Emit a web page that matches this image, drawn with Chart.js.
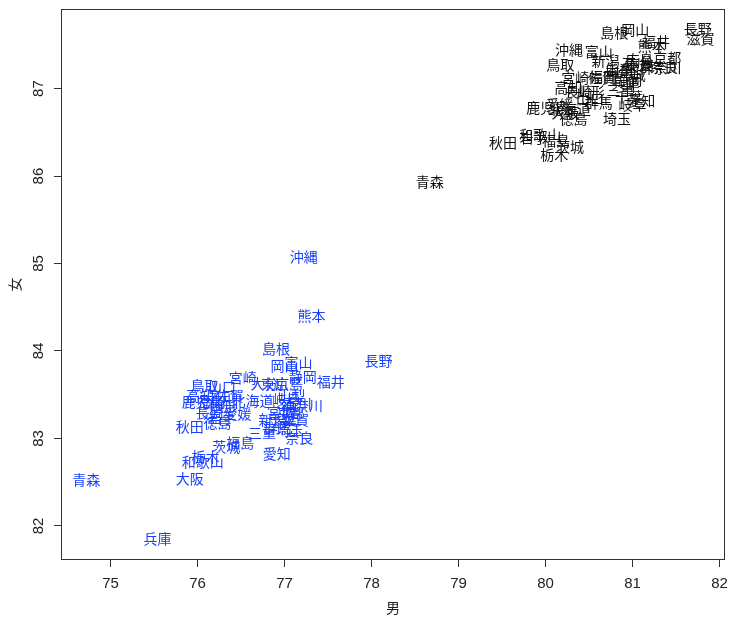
<!DOCTYPE html>
<html>
<head>
<meta charset="utf-8">
<script src="https://cdn.jsdelivr.net/npm/chart.js@4.4.1/dist/chart.umd.min.js"></script>
<style>
  html, body { margin: 0; padding: 0; background: #fff; }
  #wrap { width: 736px; height: 622px; position: relative; }
</style>
</head>
<body>
<div id="wrap"><canvas id="chart"></canvas></div>
<script>
// prefectures, in the usual order
const prefs = ['北海道', '青森', '岩手', '宮城', '秋田', '山形', '福島', '茨城', '栃木', '群馬',
  '埼玉', '千葉', '東京', '神奈川', '新潟', '富山', '石川', '福井', '山梨', '長野',
  '岐阜', '静岡', '愛知', '三重', '滋賀', '京都', '大阪', '兵庫', '奈良', '和歌山',
  '鳥取', '島根', '岡山', '広島', '山口', '徳島', '香川', '愛媛', '高知', '福岡',
  '佐賀', '長崎', '熊本', '大分', '宮崎', '鹿児島', '沖縄'];

// older year (blue)
const maleOld = [76.63, 74.72, 76.28, 76.96, 75.91, 76.30, 76.49, 76.33, 76.09, 76.92,
  77.06, 76.98, 76.89, 77.20, 76.86, 77.16, 77.15, 77.53, 77.08, 78.08,
  77.02, 77.21, 76.91, 76.74, 77.12, 77.07, 75.91, 75.54, 77.17, 76.06,
  76.08, 76.90, 77.00, 77.05, 76.28, 76.23, 76.28, 76.46, 76.03, 76.16,
  76.37, 76.14, 77.31, 76.77, 76.52, 76.06, 77.22];
const femaleOld = [83.43, 82.53, 83.24, 83.31, 83.13, 83.38, 82.95, 82.90, 82.79, 83.12,
  83.10, 83.21, 83.63, 83.37, 83.21, 83.87, 83.40, 83.65, 83.49, 83.89,
  83.44, 83.71, 82.82, 83.06, 83.22, 83.30, 82.54, 81.85, 83.01, 82.73,
  83.60, 84.03, 83.83, 83.63, 83.59, 83.18, 83.46, 83.28, 83.49, 83.42,
  83.49, 83.29, 84.40, 83.63, 83.69, 83.42, 85.08];

// newer year (black)
const maleNew = [80.28, 78.67, 79.86, 80.99, 79.51, 80.52, 80.12, 80.28, 80.10, 80.61,
  80.82, 80.96, 81.07, 81.32, 80.69, 80.61, 81.04, 81.27, 80.85, 81.75,
  81.00, 80.95, 81.10, 80.86, 81.78, 81.40, 80.23, 80.92, 81.36, 79.94,
  80.17, 80.79, 81.03, 81.08, 80.51, 80.32, 80.85, 80.16, 80.26, 80.66,
  80.65, 80.38, 81.22, 81.08, 80.34, 80.02, 80.27];
const femaleNew = [86.77, 85.93, 86.44, 87.16, 86.38, 86.96, 86.40, 86.33, 86.24, 86.84,
  86.66, 86.91, 87.26, 87.24, 87.32, 87.42, 87.28, 87.54, 87.22, 87.68,
  86.82, 87.10, 86.86, 86.99, 87.57, 87.35, 86.73, 87.07, 87.25, 86.47,
  87.27, 87.64, 87.67, 87.33, 86.88, 86.66, 87.21, 86.82, 87.01, 87.14,
  87.12, 86.97, 87.49, 87.31, 87.12, 86.78, 87.44];

const xTitle = '男';
const yTitle = '女';

const labelFont = '14px "Noto Sans CJK JP", sans-serif';
const tickFont = { family: '"Liberation Sans", Arial, sans-serif', size: 15 };

const toPoints = (xs, ys) => xs.map((x, i) => ({ x: x, y: ys[i] }));

// draw prefecture names at each point instead of markers
const textLabels = {
    id: 'textLabels',
    afterDatasetsDraw(chart) {
        const ctx = chart.ctx;
        ctx.save();
        ctx.font = labelFont;
        ctx.textAlign = 'center';
        ctx.textBaseline = 'middle';
        chart.data.datasets.forEach((ds, i) => {
            ctx.fillStyle = ds.textColor;
            chart.getDatasetMeta(i).data.forEach((pt, j) => {
                ctx.fillText(prefs[j], pt.x, pt.y);
            });
        });
        ctx.restore();
    }
};

// box round the plot and rotated y tick labels, R style
const frame = {
    id: 'frame',
    afterDraw(chart) {
        const { ctx, chartArea: a } = chart;
        const ys = chart.scales.y;
        ctx.save();
        ctx.strokeStyle = '#333';
        ctx.lineWidth = 1;
        ctx.strokeRect(Math.round(a.left) + 0.5, Math.round(a.top) + 0.5,
            Math.round(a.right - a.left) - 1, Math.round(a.bottom - a.top) - 1);
        ctx.fillStyle = '#222';
        ctx.font = tickFont.size + 'px ' + tickFont.family;
        ctx.textAlign = 'center';
        ctx.textBaseline = 'middle';
        ys.ticks.forEach(t => {
            const py = ys.getPixelForValue(t.value);
            ctx.save();
            ctx.translate(39, py);
            ctx.rotate(-Math.PI / 2);
            ctx.fillText(String(t.value), 0, 0);
            ctx.restore();
        });
        ctx.restore();
    }
};

new Chart(document.getElementById('chart'), {
    type: 'scatter',
    data: {
        datasets: [
            { data: toPoints(maleOld, femaleOld), textColor: '#1a40ff', pointRadius: 0, pointHoverRadius: 0 },
            { data: toPoints(maleNew, femaleNew), textColor: '#111', pointRadius: 0, pointHoverRadius: 0 }
        ]
    },
    options: {
        responsive: true,
        maintainAspectRatio: false,
        animation: false,
        layout: { padding: { top: 9, right: 11, left: 0, bottom: 0 } },
        plugins: {
            legend: { display: false },
            tooltip: { enabled: false }
        },
        scales: {
            x: {
                type: 'linear',
                min: 74.43,
                max: 82.06,
                border: { display: false },
                grid: { drawOnChartArea: false, drawTicks: true, tickLength: 7, color: '#333' },
                ticks: { stepSize: 1, includeBounds: false, color: '#222', font: tickFont, padding: 8 },
                title: { display: true, text: xTitle, color: '#222', font: { family: '"Noto Sans CJK JP", sans-serif', size: 14 }, padding: { top: 0, bottom: 6 } },
                afterFit: (s) => { s.height = 62; }
            },
            y: {
                type: 'linear',
                min: 81.61,
                max: 87.91,
                border: { display: false },
                grid: { drawOnChartArea: false, drawTicks: true, tickLength: 7, color: '#333' },
                ticks: { stepSize: 1, includeBounds: false, display: false },
                title: { display: true, text: yTitle, color: '#222', font: { family: '"Noto Sans CJK JP", sans-serif', size: 14 }, padding: { top: 6, bottom: 0 } },
                afterFit: (s) => { s.width = 61; }
            }
        }
    },
    plugins: [textLabels, frame]
});
</script>
</body>
</html>
